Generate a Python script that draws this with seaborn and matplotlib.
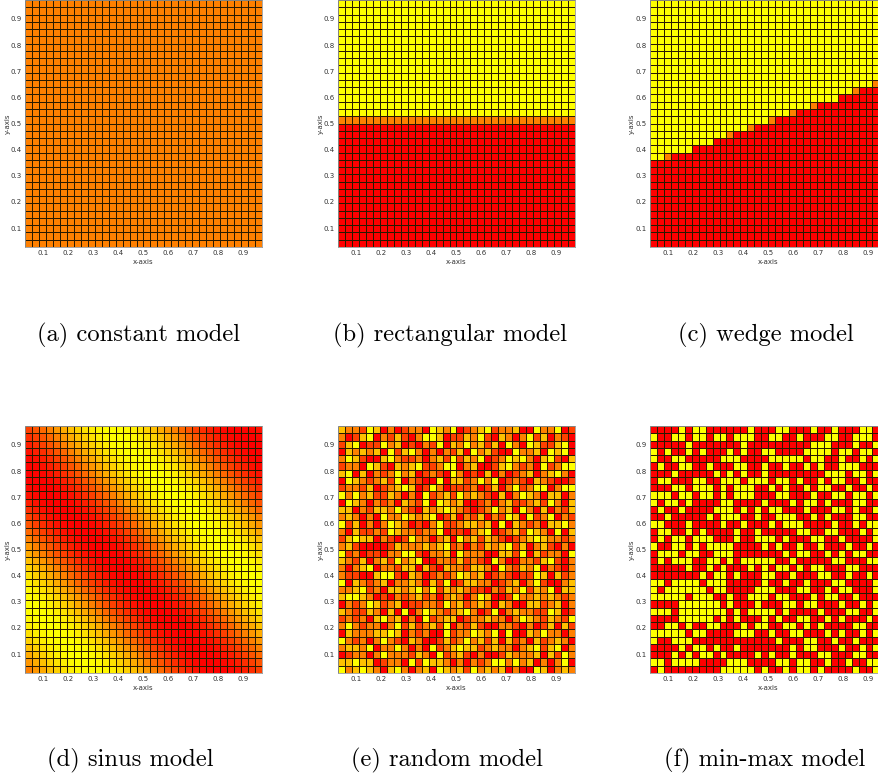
import numpy as np
import pandas as pd
import seaborn as sns
import matplotlib.pyplot as plt

# grid of 34 x 34 cells spanning [1/36, 35/36] on both axes
N = 34

tick_values = [0.1, 0.2, 0.3, 0.4, 0.5, 0.6, 0.7, 0.8, 0.9]
tick_labels = ['0.1', '0.2', '0.3', '0.4', '0.5', '0.6', '0.7', '0.8', '0.9']

captions = ['(a) constant model', '(b) rectangular model', '(c) wedge model',
            '(d) sinus model', '(e) random model', '(f) min-max model']

# (a) one level everywhere
constant_level = 0.5

# (b) rows counted from the bottom
rect_low_rows = 17
rect_mid_rows = 1

# (c) number of red rows in each column, and columns with an orange cell on top
wedge_red_rows = [12, 12, 12, 13, 13, 13, 14, 14, 14, 15, 15, 15, 16, 16, 16, 17, 17,
                  17, 18, 18, 18, 19, 19, 19, 20, 20, 20, 21, 21, 21, 22, 22, 22, 23]
wedge_mid_cols = [2, 11, 14, 17, 20, 23, 29, 32]

# (d) level along the diagonal (column + row from the bottom)
sinus_profile = [0.50, 0.59, 0.67, 0.75, 0.82, 0.88, 0.93, 0.97, 0.99, 1.00,
                 0.99, 0.97, 0.93, 0.88, 0.82, 0.75, 0.67, 0.59, 0.50, 0.41,
                 0.33, 0.25, 0.18, 0.12, 0.07, 0.03, 0.01, 0.00, 0.01, 0.03,
                 0.07, 0.12, 0.18, 0.25, 0.33, 0.41, 0.50, 0.59, 0.67, 0.75,
                 0.82, 0.88, 0.93, 0.97, 0.99, 1.00, 0.99, 0.97, 0.93, 0.88,
                 0.82, 0.75, 0.67, 0.59, 0.50, 0.41, 0.33, 0.25, 0.18, 0.12,
                 0.07, 0.03, 0.01, 0.00, 0.01, 0.03, 0.07]

# (e) 0 = red ... 4 = yellow, rows from top to bottom
random_rows = [
    "3221430201" "2204324012" "3412230042" "2401",
    "2013402131" "0244301132" "4103202413" "0210",
    "1340114230" "1021403242" "3130420431" "1340",
    "0323230413" "4202021304" "2310042230" "4340",
    "2431003421" "1202314132" "4012434203" "4103",
    "1220431032" "3411244023" "0013421204" "1244",
    "3403021242" "3012104201" "0302012302" "3420",
    "0432123140" "2100403312" "4240121032" "1001",
    "1221301234" "3014201112" "0130241244" "0244",
    "4242311320" "2041231423" "2103024320" "3302",
    "0432021203" "2140432300" "1202311231" "4203",
    "3302133242" "1032343210" "1242304203" "0213",
    "2320204224" "3234013021" "3021430412" "4021",
    "4130202432" "0102411233" "2304032120" "3342",
    "2031121432" "2122401102" "3401231432" "0403",
    "1343302101" "4220230423" "1321012343" "2212",
    "2310000132" "2232341202" "1323413023" "1020",
    "4120110224" "4102230422" "2003314031" "2204",
    "3213023142" "3400221312" "1042002213" "4102",
    "2023402213" "3031032213" "3204213240" "2102",
    "2110034410" "3201212432" "3012101143" "0312",
    "4032123022" "3203140133" "2201230241" "0023",
    "2234120332" "3424132321" "1021324132" "4033",
    "3443201021" "2312023202" "4300142232" "3212",
    "0212431230" "1122142312" "3203200331" "2302",
    "3211320304" "0243212342" "0140232211" "4301",
    "1212034230" "2041233012" "2322024321" "3214",
    "2421220241" "3123140213" "1002210201" "3031",
    "0322233430" "2120041224" "3240400324" "2202",
    "4212024210" "3200131242" "3130312031" "2320",
    "2332402242" "0204123433" "1232202341" "3402",
    "0122024222" "1320412310" "2001322230" "3142",
    "3343301220" "4143320202" "1244242302" "0240",
    "4234320342" "0230432314" "2323020043" "0232",
]

# (f) R = minimum, Y = maximum, rows from top to bottom
minmax_rows = [
    "RRRRYRYYRRRRRRYRR" "RYYRRRYRRYRRRYYRY",
    "YRRYYRYYRYYRYYYRR" "YYRRYRRRYYRRYYYRY",
    "RRRRRYRRRRRRRYRRR" "RRRRRRYYYRRRYRRYR",
    "YRYRRYRYRRRYRYRRY" "YRRRRYYYYRYYRYYRR",
    "YRRYYRRRRRYYYRRRR" "YYYYYRYYRRYRRYRYR",
    "RYRRYYRRYRRRYYRRY" "RRYRRYRYRRYYYRRRY",
    "RRRYRRRRRYRYRYRRY" "RRRRRRRRYYYRYYRYY",
    "RYYRRRYYRRYYYRYYY" "RYYRYRRYRYYRRYRRR",
    "RRRYYRYYYRYRYYYRR" "YRYRRYRYYRRYRRYRY",
    "YYYRYYRYYRYRYYYRR" "RYYRRRYRRYYRYYRYR",
    "YRYYRYRRRRYYRRRRY" "RRRYRYYRYRRRYYRRR",
    "RYRRYRRRRYYYRYRYR" "YYRRRYRRRYYRYRRYY",
    "RRYRRRRRYRYYYRRYR" "RYYYRRYRYRRRYYRRY",
    "YYRRRYRRRRYRRYRRR" "YRYYYRRRRYRRYRYYR",
    "RYYRRYRYRRRRYRRYR" "RRRRYYRRYYRRRYRYR",
    "RYRYYRYYYRRRYRRYY" "YRYRRRYYRRYRRRRYY",
    "YRRYYRYRYYYYRRRRY" "RYRRYRRYRRRYRRYRR",
    "RYYYRYYRRYYYRRRRR" "RRYRYYRRYRYRYYRRY",
    "RYRYYYRRYYRYRYYYY" "YRRYRRRRRYYRRRYYR",
    "RRRRRYRRYRYRRRYRY" "RYYRYRYYRRRYYRRRY",
    "RRRRRRRYRYYRYRRRY" "YRRYRRRYYRRYRRYRR",
    "YYRYYYYRYYYRRRRRY" "RRYRRYRRRYYRRRRYR",
    "YRYYYYYYRYYRRRRYY" "YRRRYYRRYRYYRRRYY",
    "YYYYYRYYYRRYRRYYY" "RYYRRRYRYYRRYRRRR",
    "RRRRYYYYYYRYRRRYR" "RRYYRYYRRRYRRYRYY",
    "YYYRYYYYYYYRYRYYY" "YRYRRRRYRRRYYRRYR",
    "RRRRYYYYYRYRYRRRY" "RYRRYYRRYRYRRRYRR",
    "RRYYRYRRYYRRRYRYY" "RRYYRYRYRRRRYYRRY",
    "YYYYYRYYRRRRYYYRR" "YRRYYRRRYRYRRYRYR",
    "YRRYYYRRRRRRRRRRR" "RYRRRYYRRYRRYRRRY",
    "RRRRYRYYRYRRYRRRR" "RRRYRYYRRRYRRYRYR",
    "RRRYRYRYYRYRRRRYR" "YRRYRRRYYRRRYYRRY",
    "YYRYYYYRRRRYYYRRR" "RYYRYYRRYRRYRRYYR",
    "RYRRRRRRRRYYYYYRY" "RRYRYYRYRRRRYRRYR",
]

lo, mid, hi = 0.0, 0.5, 1.0


def constant_grid():
    return np.full((N, N), constant_level)


def rect_grid():
    g = np.full((N, N), hi)
    for r in range(N):
        if r < rect_low_rows:
            g[N - 1 - r, :] = lo
        elif r < rect_low_rows + rect_mid_rows:
            g[N - 1 - r, :] = mid
    return g


def wedge_grid():
    g = np.full((N, N), hi)
    for c in range(N):
        g[N - wedge_red_rows[c]:, c] = lo
        if c in wedge_mid_cols:
            g[N - 1 - wedge_red_rows[c], c] = mid
    return g


def sinus_grid():
    g = np.zeros((N, N))
    for i in range(N):
        r = N - 1 - i
        for c in range(N):
            g[i, c] = sinus_profile[c + r]
    return g


def random_grid():
    return np.array([[int(ch) / 4 for ch in row] for row in random_rows])


def minmax_grid():
    return np.array([[lo if ch == 'R' else hi for ch in row] for row in minmax_rows])


grids = [constant_grid(), rect_grid(), wedge_grid(),
         sinus_grid(), random_grid(), minmax_grid()]

fig = plt.figure(figsize=(8.79, 7.81), dpi=100)
W, H = 879, 781
lefts = [25.3, 338.3, 650.0]
tops = [0.0, 426.0]
aw, ah = 236.4, 247.0
cap_x = [[139, 450, 766], [130, 447, 765]]
cap_y = [335, 760]

tick_font = ['Liberation Sans Narrow', 'DejaVu Sans']

for k, grid in enumerate(grids):
    row, col = divmod(k, 3)
    ax = fig.add_axes([lefts[col] / W, 1 - (tops[row] + ah) / H, aw / W, ah / H])
    df = pd.DataFrame(grid)
    sns.heatmap(df, ax=ax, cmap='autumn', vmin=0, vmax=1, cbar=False,
                linewidths=0.5, linecolor='#2a1a00',
                xticklabels=False, yticklabels=False)
    ax.set_xticks([36 * v - 1 for v in tick_values])
    ax.set_xticklabels(tick_labels, family=tick_font, fontsize=5, color='#333333')
    ax.set_yticks([35 - 36 * v for v in tick_values])
    ax.set_yticklabels(tick_labels, family=tick_font, fontsize=5, color='#333333',
                       rotation=0)
    ax.tick_params(length=0, pad=2.5)
    ax.set_xlabel('x-axis', family=tick_font, fontsize=5, color='#333333', labelpad=2)
    ax.set_ylabel('y-axis', family=tick_font, fontsize=5, color='#333333', labelpad=0)
    for s in ax.spines.values():
        s.set_visible(True)
        s.set_color('#999999')
        s.set_linewidth(0.6)
    fig.text(cap_x[row][col] / W, 1 - cap_y[row] / H, captions[k],
             family='cmr10', fontsize=17.7, ha='center', va='center')

fig.savefig('out.png', dpi=100)
